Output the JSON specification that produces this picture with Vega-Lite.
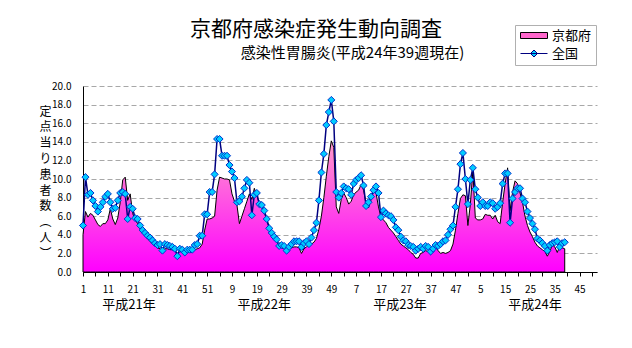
{
  "$schema": "https://vega.github.io/schema/vega-lite/v6.json",
  "width": 514,
  "height": 186,
  "autosize": {"type": "none"},
  "padding": {"left": 83, "top": 86, "right": 35, "bottom": 76},
  "background": "white",
  "config": {
    "view": {"stroke": null},
    "font": "Noto Sans CJK JP",
    "axis": {"labelFont": "Noto Sans CJK JP", "titleFont": "Noto Sans CJK JP", "labelColor": "black", "titleColor": "black"}
  },
  "title": {
    "text": "京都府感染症発生動向調査",
    "font": "Noto Sans CJK JP",
    "fontSize": 21,
    "fontWeight": "normal",
    "color": "black",
    "anchor": "middle",
    "frame": "group",
    "dx": -24,
    "offset": -15
  },
  "data": {
    "values": [
      {"idx":1,"京都府":4.0,"全国":5.0},{"idx":2,"京都府":6.5,"全国":10.2},{"idx":3,"京都府":5.9,"全国":8.3},{"idx":4,"京都府":6.3,"全国":8.5},{"idx":5,"京都府":6.1,"全国":7.7},
      {"idx":6,"京都府":5.6,"全国":7.1},{"idx":7,"京都府":5.1,"全国":6.5},{"idx":8,"京都府":4.9,"全国":7.0},{"idx":9,"京都府":5.2,"全国":7.5},{"idx":10,"京都府":5.2,"全国":8.1},
      {"idx":11,"京都府":5.6,"全国":8.4},{"idx":12,"京都府":6.8,"全国":7.5},{"idx":13,"京都府":5.7,"全国":6.8},{"idx":14,"京都府":5.1,"全国":6.9},{"idx":15,"京都府":5.8,"全国":7.7},
      {"idx":16,"京都府":7.5,"全国":8.5},{"idx":17,"京都府":9.9,"全国":8.6},{"idx":18,"京都府":10.2,"全国":8.4},{"idx":19,"京都府":7.7,"全国":5.7},{"idx":20,"京都府":8.4,"全国":7.0},
      {"idx":21,"京都府":6.3,"全国":6.8},{"idx":22,"京都府":5.6,"全国":5.8},{"idx":23,"京都府":5.2,"全国":5.7},{"idx":24,"京都府":4.7,"全国":5.0},{"idx":25,"京都府":4.3,"全国":4.5},
      {"idx":26,"京都府":4.0,"全国":4.2},{"idx":27,"京都府":3.6,"全国":3.9},{"idx":28,"京都府":3.3,"全国":3.7},{"idx":29,"京都府":3.0,"全国":3.4},{"idx":30,"京都府":2.8,"全国":3.1},
      {"idx":31,"京都府":2.6,"全国":2.9},{"idx":32,"京都府":2.5,"全国":3.0},{"idx":33,"京都府":2.3,"全国":2.3},{"idx":34,"京都府":2.5,"全国":3.0},{"idx":35,"京都府":2.5,"全国":2.9},
      {"idx":36,"京都府":2.4,"全国":2.8},{"idx":37,"京都府":2.4,"全国":2.7},{"idx":38,"京都府":2.3,"全国":2.5},{"idx":39,"京都府":2.0,"全国":1.7},{"idx":40,"京都府":2.2,"全国":2.5},
      {"idx":41,"京都府":2.3,"全国":2.4},{"idx":42,"京都府":2.2,"全国":2.1},{"idx":43,"京都府":2.1,"全国":2.4},{"idx":44,"京都府":2.2,"全国":2.4},{"idx":45,"京都府":2.3,"全国":2.4},
      {"idx":46,"京都府":2.4,"全国":2.9},{"idx":47,"京都府":2.5,"全国":3.0},{"idx":48,"京都府":2.6,"全国":3.9},{"idx":49,"京都府":3.0,"全国":3.9},{"idx":50,"京都府":4.5,"全国":6.2},
      {"idx":51,"京都府":5.7,"全国":6.2},{"idx":52,"京都府":5.7,"全国":8.6},{"idx":53,"京都府":5.8,"全国":8.6},{"idx":54,"京都府":6.0,"全国":10.5},{"idx":55,"京都府":8.8,"全国":14.3},
      {"idx":56,"京都府":10.2,"全国":14.3},{"idx":57,"京都府":10.1,"全国":12.5},{"idx":58,"京都府":10.0,"全国":12.5},{"idx":59,"京都府":10.0,"全国":12.5},{"idx":60,"京都府":9.9,"全国":11.5},
      {"idx":61,"京都府":8.4,"全国":10.8},{"idx":62,"京都府":7.6,"全国":10.1},{"idx":63,"京都府":7.2,"全国":7.5},{"idx":64,"京都府":5.2,"全国":7.6},{"idx":65,"京都府":6.0,"全国":8.1},
      {"idx":66,"京都府":6.8,"全国":9.0},{"idx":67,"京都府":7.6,"全国":9.9},{"idx":68,"京都府":8.4,"全国":9.6},{"idx":69,"京都府":7.8,"全国":6.1},{"idx":70,"京都府":9.0,"全国":8.3},
      {"idx":71,"京都府":8.2,"全国":8.5},{"idx":72,"京都府":7.4,"全国":7.3},{"idx":73,"京都府":7.0,"全国":7.2},{"idx":74,"京都府":6.4,"全国":6.6},{"idx":75,"京都府":5.6,"全国":5.7},
      {"idx":76,"京都府":4.8,"全国":4.7},{"idx":77,"京都府":4.2,"全国":4.2},{"idx":78,"京都府":3.7,"全国":3.8},{"idx":79,"京都府":3.2,"全国":3.5},{"idx":80,"京都府":2.9,"全国":2.8},
      {"idx":81,"京都府":2.6,"全国":2.9},{"idx":82,"京都府":2.5,"全国":2.8},{"idx":83,"京都府":2.4,"全国":2.3},{"idx":84,"京都府":2.5,"全国":2.7},{"idx":85,"京都府":2.6,"全国":3.0},
      {"idx":86,"京都府":2.7,"全国":3.3},{"idx":87,"京都府":2.7,"全国":3.3},{"idx":88,"京都府":2.6,"全国":3.3},{"idx":89,"京都府":2.0,"全国":2.7},{"idx":90,"京都府":2.5,"全国":3.1},
      {"idx":91,"京都府":2.7,"全国":3.3},{"idx":92,"京都府":2.9,"全国":3.0},{"idx":93,"京都府":3.0,"全国":3.7},{"idx":94,"京都府":3.2,"全国":4.5},{"idx":95,"京都府":3.6,"全国":5.3},
      {"idx":96,"京都府":4.6,"全国":7.7},{"idx":97,"京都府":6.0,"全国":10.7},{"idx":98,"京都府":8.0,"全国":12.7},{"idx":99,"京都府":10.3,"全国":15.8},{"idx":100,"京都府":12.4,"全国":17.2},
      {"idx":101,"京都府":14.1,"全国":18.5},{"idx":102,"京都府":13.4,"全国":16.2},{"idx":103,"京都府":7.0,"全国":8.6},{"idx":104,"京都府":6.3,"全国":8.0},{"idx":105,"京都府":7.8,"全国":8.5},
      {"idx":106,"京都府":8.5,"全国":9.2},{"idx":107,"京都府":8.0,"全国":9.0},{"idx":108,"京都府":7.3,"全国":8.9},{"idx":109,"京都府":7.6,"全国":8.3},{"idx":110,"京都府":8.3,"全国":9.5},
      {"idx":111,"京都府":8.6,"全国":9.9},{"idx":112,"京都府":8.8,"全国":10.1},{"idx":113,"京都府":9.4,"全国":10.4},{"idx":114,"京都府":8.8,"全国":9.3},{"idx":115,"京都府":7.3,"全国":7.1},
      {"idx":116,"京都府":6.9,"全国":7.5},{"idx":117,"京都府":7.8,"全国":8.1},{"idx":118,"京都府":8.6,"全国":8.8},{"idx":119,"京都府":8.5,"全国":9.2},{"idx":120,"京都府":7.0,"全国":8.5},
      {"idx":121,"京都府":5.9,"全国":5.9},{"idx":122,"京都府":5.6,"全国":6.6},{"idx":123,"京都府":5.3,"全国":6.3},{"idx":124,"京都府":4.8,"全国":6.1},{"idx":125,"京都府":4.5,"全国":6.0},
      {"idx":126,"京都府":4.2,"全国":5.6},{"idx":127,"京都府":3.8,"全国":4.8},{"idx":128,"京都府":3.4,"全国":4.5},{"idx":129,"京都府":3.0,"全国":3.8},{"idx":130,"京都府":2.8,"全国":3.4},
      {"idx":131,"京都府":2.6,"全国":3.3},{"idx":132,"京都府":2.4,"全国":2.9},{"idx":133,"京都府":2.1,"全国":2.8},{"idx":134,"京都府":1.9,"全国":2.7},{"idx":135,"京都府":1.5,"全国":2.3},
      {"idx":136,"京都府":1.5,"全国":2.5},{"idx":137,"京都府":2.0,"全国":2.7},{"idx":138,"京都府":2.1,"全国":2.5},{"idx":139,"京都府":2.3,"全国":2.8},{"idx":140,"京都府":2.2,"全国":2.7},
      {"idx":141,"京都府":2.3,"全国":2.2},{"idx":142,"京都府":2.5,"全国":2.5},{"idx":143,"京都府":2.7,"全国":2.9},{"idx":144,"京都府":2.3,"全国":2.8},{"idx":145,"京都府":2.0,"全国":3.0},
      {"idx":146,"京都府":2.1,"全国":3.3},{"idx":147,"京都府":2.0,"全国":3.4},{"idx":148,"京都府":2.1,"全国":4.0},{"idx":149,"京都府":2.3,"全国":4.6},{"idx":150,"京都府":3.0,"全国":5.0},
      {"idx":151,"京都府":4.5,"全国":7.0},{"idx":152,"京都府":6.3,"全国":8.9},{"idx":153,"京都府":7.9,"全国":11.6},{"idx":154,"京都府":8.3,"全国":12.8},{"idx":155,"京都府":8.2,"全国":10.0},
      {"idx":156,"京都府":5.0,"全国":7.3},{"idx":157,"京都府":7.3,"全国":9.9},{"idx":158,"京都府":10.9,"全国":11.2},{"idx":159,"京都府":5.8,"全国":8.9},{"idx":160,"京都府":5.6,"全国":8.0},
      {"idx":161,"京都府":5.6,"全国":7.1},{"idx":162,"京都府":5.7,"全国":7.5},{"idx":163,"京都府":6.2,"全国":7.1},{"idx":164,"京都府":6.1,"全国":7.1},{"idx":165,"京都府":6.1,"全国":7.5},
      {"idx":166,"京都府":5.7,"全国":7.4},{"idx":167,"京都府":6.1,"全国":6.8},{"idx":168,"京都府":5.4,"全国":7.0},{"idx":169,"京都府":5.2,"全国":7.4},{"idx":170,"京都府":7.5,"全国":9.5},
      {"idx":171,"京都府":9.5,"全国":10.6},{"idx":172,"京都府":11.2,"全国":10.6},{"idx":173,"京都府":6.6,"全国":5.3},{"idx":174,"京都府":8.6,"全国":7.9},{"idx":175,"京都府":9.8,"全国":8.6},
      {"idx":176,"京都府":9.5,"全国":9.0},{"idx":177,"京都府":8.5,"全国":9.0},{"idx":178,"京都府":7.5,"全国":7.9},{"idx":179,"京都府":6.0,"全国":7.5},{"idx":180,"京都府":5.0,"全国":6.5},
      {"idx":181,"京都府":4.3,"全国":5.8},{"idx":182,"京都府":3.8,"全国":5.2},{"idx":183,"京都府":3.2,"全国":4.6},{"idx":184,"京都府":2.8,"全国":3.6},{"idx":185,"京都府":2.6,"全国":3.4},
      {"idx":186,"京都府":2.4,"全国":3.1},{"idx":187,"京都府":2.2,"全国":2.8},{"idx":188,"京都府":1.7,"全国":2.3},{"idx":189,"京都府":2.2,"全国":2.9},{"idx":190,"京都府":2.9,"全国":3.1},
      {"idx":191,"京都府":2.7,"全国":3.2},{"idx":192,"京都府":2.1,"全国":3.3},{"idx":193,"京都府":2.8,"全国":2.7},{"idx":194,"京都府":2.6,"全国":3.1},{"idx":195,"京都府":2.5,"全国":3.2}
    ]
  },
  "layer": [
    {
      "mark": {
        "type": "area",
        "interpolate": "linear",
        "stroke": "black",
        "strokeWidth": 1,
        "fill": {
          "gradient": "linear",
          "x1": 0, "y1": 0, "x2": 0, "y2": 1,
          "stops": [
            {"offset": 0, "color": "#FF99CC"},
            {"offset": 1, "color": "#FF00FF"}
          ]
        }
      },
      "encoding": {
        "x": {
          "field": "idx",
          "type": "quantitative",
          "scale": {"domain": [1, 208], "nice": false, "zero": false},
          "axis": {
            "values": [1,6,11,16,21,26,31,36,41,46,51,56,61,66,71,76,81,86,91,96,101,106,111,116,121,126,131,136,141,146,151,156,161,166,171,176,181,186,191,196,201,206],
            "tickCount": 500,
            "labelExpr": "(datum.value - 1) % 10 === 0 ? '' + (((datum.value - 1) % 52) + 1) : ''",
            "labelFontSize": 10,
            "labelPadding": 8,
            "labelOverlap": false,
            "labelFlush": false,
            "tickSize": 4,
            "tickColor": "black",
            "domainColor": "black",
            "grid": false,
            "title": "感染性胃腸炎(平成24年39週現在)",
            "titleFontSize": 15,
            "titleFontWeight": "normal",
            "titleAngle": 0,
            "titleAlign": "center",
            "titleBaseline": "middle",
            "titleX": 269,
            "titleY": -220
          }
        },
        "y": {
          "field": "京都府",
          "type": "quantitative",
          "scale": {"domain": [0, 20], "nice": false},
          "axis": {
            "values": [0,2,4,6,8,10,12,14,16,18,20],
            "tickCount": 500,
            "format": ".1f",
            "labelFontSize": 10,
            "labelOverlap": false,
            "ticks": false,
            "labelPadding": 12,
            "domainColor": "black",
            "grid": true,
            "gridColor": "#A8A8A8",
            "gridDash": [5, 3],
            "title": ["定","点","当","り","患","者","数","︵","人","︶"],
            "titleFontSize": 12,
            "titleFontWeight": "normal",
            "titleAngle": 0,
            "titleAlign": "center",
            "titleBaseline": "top",
            "titleLineHeight": 15.8,
            "titleX": -38,
            "titleY": 20
          }
        }
      }
    },
    {
      "mark": {"type": "line", "interpolate": "linear", "color": "#000080", "strokeWidth": 1.5},
      "encoding": {
        "x": {"field": "idx", "type": "quantitative"},
        "y": {"field": "全国", "type": "quantitative"}
      }
    },
    {
      "mark": {"type": "point", "shape": "diamond", "filled": true, "size": 50, "fill": "#00CCFF", "stroke": "#0033CC", "strokeWidth": 1, "opacity": 1},
      "encoding": {
        "x": {"field": "idx", "type": "quantitative"},
        "y": {"field": "全国", "type": "quantitative"}
      }
    },
    {
      "transform": [
        {"fold": ["京都府", "全国"], "as": ["series", "value"]},
        {"filter": "datum.idx < 0"}
      ],
      "mark": {"type": "point", "filled": true},
      "encoding": {
        "x": {"field": "idx", "type": "quantitative"},
        "y": {"field": "value", "type": "quantitative"},
        "shape": {
          "field": "series",
          "type": "nominal",
          "scale": {"domain": ["京都府", "全国"], "range": ["M-1,-0.6H4.4V0.6H-1Z", "M-1,0H4.4M1.7,-0.7L2.4,0L1.7,0.7L1,0Z"]},
          "legend": {
            "title": null,
            "orient": "none",
            "legendX": 432,
            "legendY": -61,
            "symbolSize": 100,
            "symbolStrokeWidth": 1,
            "symbolOpacity": 1,
            "labelFont": "Noto Sans CJK JP",
            "labelFontSize": 13,
            "labelColor": "black",
            "labelOffset": 20,
            "rowPadding": 4,
            "padding": 4,
            "strokeColor": "#B0B0B0",
            "fillColor": "white"
          }
        },
        "fill": {
          "field": "series",
          "type": "nominal",
          "scale": {"domain": ["京都府", "全国"], "range": ["#FF66CC", "#00CCFF"]}
        },
        "stroke": {
          "field": "series",
          "type": "nominal",
          "scale": {"domain": ["京都府", "全国"], "range": ["#000000", "#000080"]}
        }
      }
    },
    {
      "data": {
        "values": [
          {"label": "平成21年", "pos": 19.5},
          {"label": "平成22年", "pos": 74},
          {"label": "平成23年", "pos": 128.7},
          {"label": "平成24年", "pos": 183}
        ]
      },
      "mark": {"type": "text", "fontSize": 13, "color": "black", "dy": 33, "baseline": "middle", "align": "center"},
      "encoding": {
        "x": {"field": "pos", "type": "quantitative"},
        "y": {"datum": 0},
        "text": {"field": "label", "type": "nominal"}
      }
    }
  ]
}
